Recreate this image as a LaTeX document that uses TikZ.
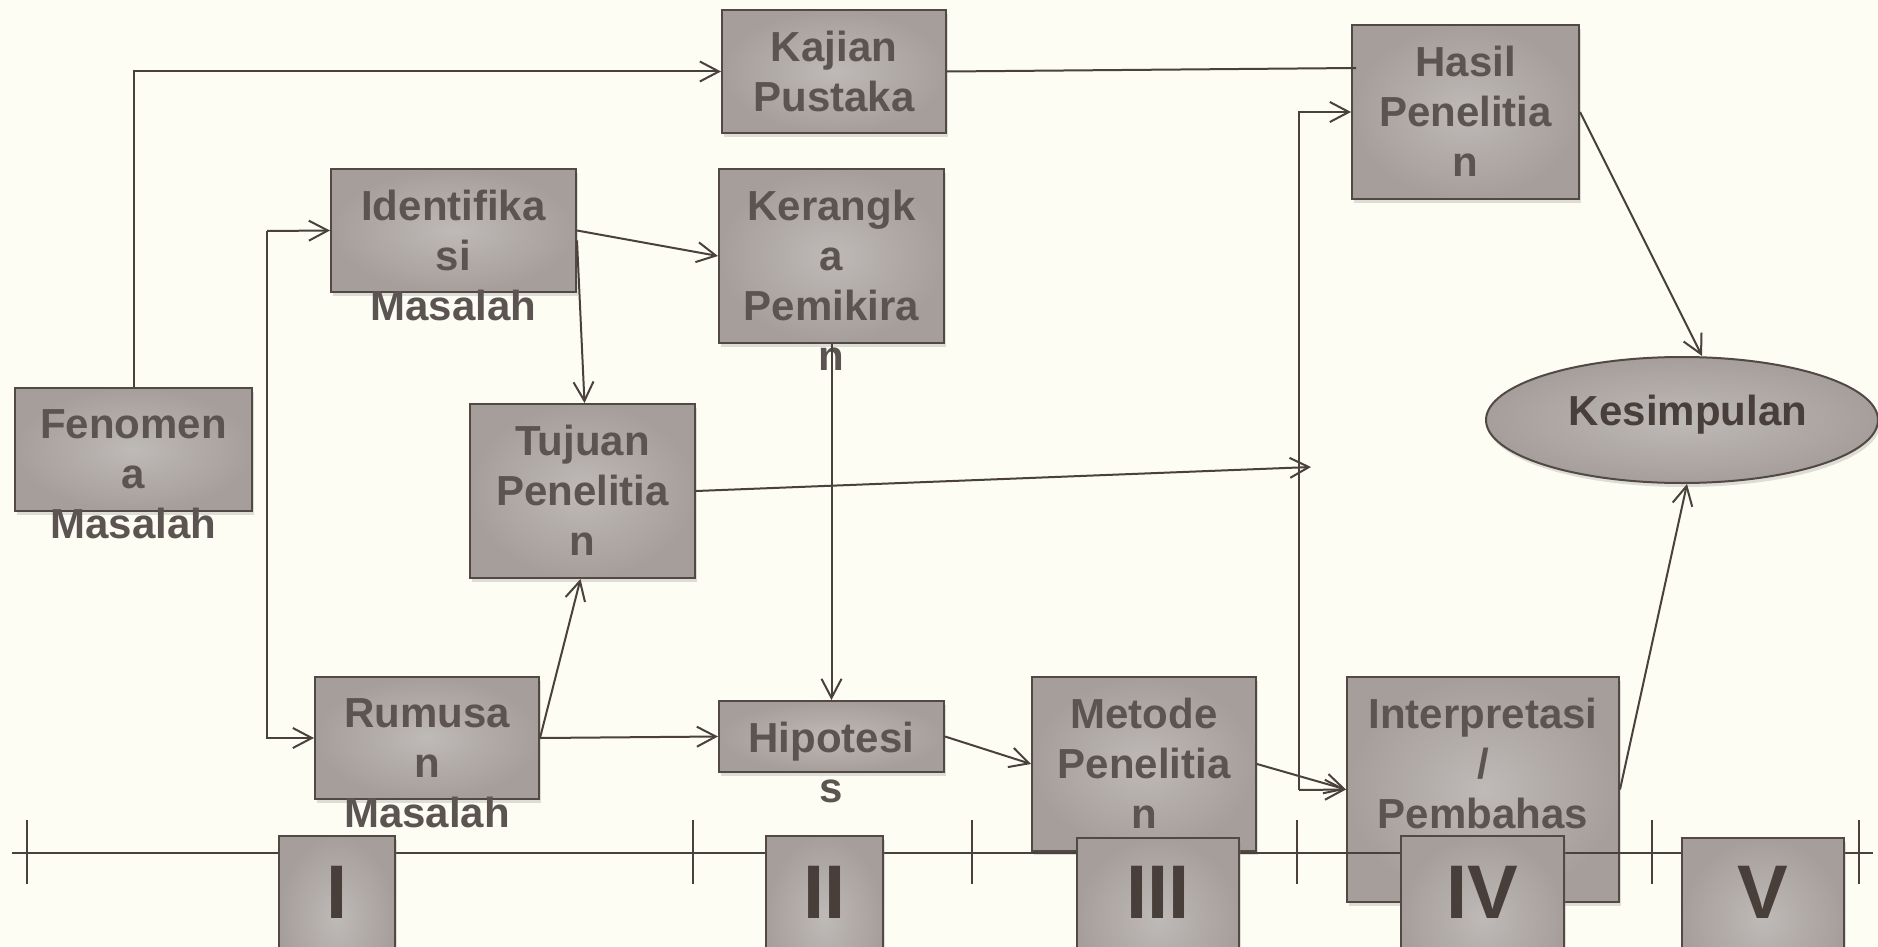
\documentclass[tikz,border=0pt]{standalone}
\usepackage{fontspec}
\setmainfont{Liberation Sans}
\usetikzlibrary{arrows.meta,calc,shapes.geometric,shadows}
\definecolor{bgc}{RGB}{253,253,243}
\definecolor{boxin}{RGB}{190,186,183}
\definecolor{boxout}{RGB}{166,158,155}
\definecolor{bordc}{RGB}{82,72,68}
\definecolor{linec}{RGB}{74,64,60}
\definecolor{txtc}{RGB}{92,84,81}
\definecolor{darktxt}{RGB}{72,62,58}
\tikzset{
  >={Straight Barb[length=7.6pt,width=8pt]},
  conn/.style={draw=linec, line width=0.8pt},
  arr/.style={conn, ->},
  boxbase/.style={draw=bordc, line width=0.8pt, inner color=boxin, outer color=boxout, inner sep=0pt,
    drop shadow={shadow xshift=0.8pt, shadow yshift=-1.6pt, opacity=0.25}},
  rect/.style={boxbase, rectangle},
  boxtext/.style={anchor=north, inner sep=0pt, align=center, text=txtc,
    font=\fontsize{16.8pt}{20pt}\selectfont\bfseries},
  ovaltext/.style={inner sep=0pt, text=darktxt, font=\fontsize{16.8pt}{20pt}\selectfont\bfseries},
  romtext/.style={inner sep=0pt, text=darktxt, font=\fontsize{30.4pt}{34pt}\selectfont\bfseries},
  tickline/.style={draw=linec, line width=0.6pt},
}
\newcommand\mkbox[6]{%
  \node[rect, minimum width={0.4pt*(#4-#2)}, minimum height={0.4pt*(#5-#3)}] (#1) at ({(#2+#4)/2},{(#3+#5)/2}) {};
  \node[boxtext] (#1t) at ($(#1.north)+(0,22)$) {#6};
}
\newcommand\mkrom[5]{%
  \node[rect, minimum width={0.4pt*(#3-#2)}, minimum height={0.4pt*(1000-#4)}] (#1) at ({(#2+#3)/2},{(#4+1000)/2}) {};
  \node[romtext] (#1t) at ({(#2+#3)/2},892) {#5};
}
\begin{document}
\begin{tikzpicture}[x=0.4pt, y=-0.4pt]
\useasboundingbox (0,0) rectangle (1878,946);
\fill[bgc] (0,0) rectangle (1878,946);
\clip (0,0) rectangle (1878,946);

% main boxes
\mkbox{kajian}{722}{10}{946}{133}{Kajian\\Pustaka}
\mkbox{hasil}{1352}{25}{1579}{199}{Hasil\\Penelitia\\n}
\mkbox{ident}{331}{169}{576}{292}{Identifika\\si\\Masalah}
\mkbox{kerang}{719}{169}{944}{343}{Kerangk\\a\\Pemikira\\n}
\mkbox{fenom}{15}{388}{252}{511}{Fenomen\\a\\Masalah}
\mkbox{tujuan}{470}{404}{695}{578}{Tujuan\\Penelitia\\n}
\mkbox{rumusan}{315}{677}{539}{799}{Rumusa\\n\\Masalah}
\mkbox{hipo}{719}{701}{944}{772}{Hipotesi\\s}
\mkbox{metode}{1032}{677}{1256}{851}{Metode\\Penelitia\\n}
\mkbox{interp}{1347}{677}{1619}{902}{Interpretasi\\/\\Pembahas}
\node[boxbase, ellipse, minimum width={0.4pt*392}, minimum height={0.4pt*126}] (kesim) at (1682,420) {};
\node[ovaltext] (kesimt) at ($(kesim.center)+(6,-5)$) {Kesimpulan};

% free ends
\coordinate (kh) at (1356,68);
\coordinate (b1) at (267,231);
\coordinate (tv) at (1311,467);
\coordinate (v2) at (1299,790);

% connectors
\draw[arr] (fenom.north) |- (kajian.west);
\draw[conn] (kajian.east) -- (kh);
\draw[arr] (b1) -- (ident.west);
\draw[arr] (b1) |- (rumusan.west);
\draw[arr] (ident.east) -- (kerang.west);
\draw[arr] ($(ident.east)+(0,10)$) -- ($(tujuan.north)+(2,0)$);
\draw[arr] (kerang.south) -- (hipo.north);
\draw[arr] (rumusan.east) -- (hipo.west);
\draw[arr] (rumusan.east) -- ($(tujuan.south)+(-2,0)$);
\draw[arr] (tujuan.east) -- (tv);
\draw[arr] (v2) |- (hasil.west);
\draw[arr] (v2) -- (interp.west);
\draw[arr] (hipo.east) -- (metode.west);
\draw[arr] (metode.east) -- (interp.west);
\draw[arr] (interp.east) -- ($(kesim.south)+(5,0)$);
\draw[arr] (hasil.east) -- ($(kesim.north)+(20,0)$);

% axis
\coordinate (axl) at (12,853);
\coordinate (axr) at (1873,853);
\draw[conn] (axl) -- (axr);
\foreach \tx in {27,693,972,1297,1652,1859}{
  \draw[tickline] (\tx,820) -- (\tx,884);
}

% roman numeral boxes
\mkrom{r1}{279}{395}{836}{I}
\mkrom{r2}{766}{883}{836}{II}
\mkrom{r3}{1077}{1239}{838}{III}
\mkrom{r4}{1401}{1564}{836}{IV}
\mkrom{r5}{1682}{1844}{838}{V}
\end{tikzpicture}
\end{document}
